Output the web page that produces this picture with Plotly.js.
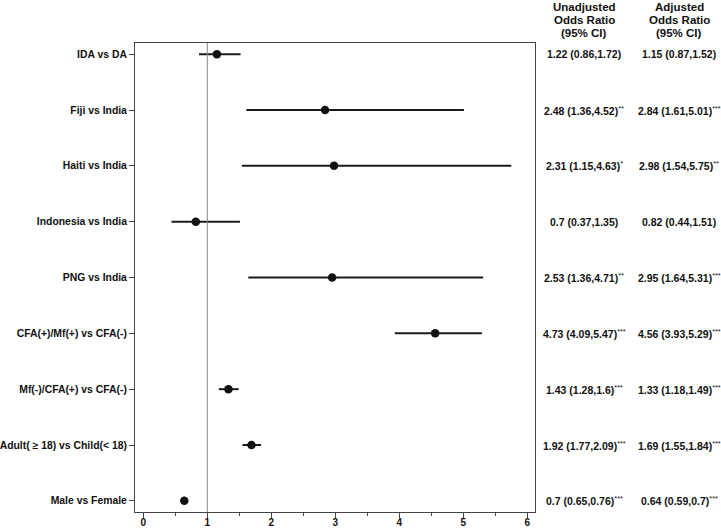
<!DOCTYPE html>
<html>
<head>
<meta charset="utf-8">
<script src="https://cdn.plot.ly/plotly-3.0.1.min.js"></script>
<style>html,body{margin:0;padding:0;background:#fff;}</style>
</head>
<body>
<div id="chart" style="width:721px;height:530px;"></div>
<script>
const categories = ["IDA vs DA","Fiji vs India","Haiti vs India","Indonesia vs India","PNG vs India","CFA(+)/Mf(+) vs CFA(-)","Mf(-)/CFA(+) vs CFA(-)","Adult( ≥ 18) vs Child(&lt; 18)","Male vs Female"];
const adjOR  = [1.15, 2.84, 2.98, 0.82, 2.95, 4.56, 1.33, 1.69, 0.64];
const adjLo  = [0.87, 1.61, 1.54, 0.44, 1.64, 3.93, 1.18, 1.55, 0.59];
const adjHi  = [1.52, 5.01, 5.75, 1.51, 5.31, 5.29, 1.49, 1.84, 0.70];
const unadjText = ["1.22 (0.86,1.72)","2.48 (1.36,4.52)<sup>**</sup>","2.31 (1.15,4.63)<sup>*</sup>","0.7 (0.37,1.35)","2.53 (1.36,4.71)<sup>**</sup>","4.73 (4.09,5.47)<sup>***</sup>","1.43 (1.28,1.6)<sup>***</sup>","1.92 (1.77,2.09)<sup>***</sup>","0.7 (0.65,0.76)<sup>***</sup>"];
const adjText = ["1.15 (0.87,1.52)","2.84 (1.61,5.01)<sup>***</sup>","2.98 (1.54,5.75)<sup>**</sup>","0.82 (0.44,1.51)","2.95 (1.64,5.31)<sup>***</sup>","4.56 (3.93,5.29)<sup>***</sup>","1.33 (1.18,1.49)<sup>***</sup>","1.69 (1.55,1.84)<sup>***</sup>","0.64 (0.59,0.7)<sup>***</sup>"];
const colHeaders = [["Unadjusted","Odds Ratio","(95% CI)"],["Adjusted","Odds Ratio","(95% CI)"]];
const xTicks = [0,1,2,3,4,5,6];

const idx = categories.map((c,i)=>i);
const font = "Liberation Sans, Arial, sans-serif";
const boldify = s => "<b>"+s.replace(/<sup>/,"</b><sup>").replace(/<\/sup>/,"</sup><b>")+"</b>";

const trace = {
  type: "scatter", mode: "markers",
  x: adjOR, y: idx,
  marker: {color: "#111", size: 8.5},
  error_x: {type: "data", symmetric: false,
    array: adjHi.map((h,i)=>h-adjOR[i]),
    arrayminus: adjLo.map((l,i)=>adjOR[i]-l),
    color: "#1a1a1a", thickness: 2, width: 0},
  hoverinfo: "skip", showlegend: false
};

const colX = [1.1225, 1.36];
const headerShift = [36, 23, 10];
const annotations = [];
idx.forEach(i=>{
  annotations.push({xref:"paper", yref:"y", x:colX[0], y:i, text:boldify(unadjText[i]), showarrow:false, xanchor:"center", yanchor:"middle", font:{family:font,size:10.5,color:"#111"}});
  annotations.push({xref:"paper", yref:"y", x:colX[1], y:i, text:boldify(adjText[i]), showarrow:false, xanchor:"center", yanchor:"middle", font:{family:font,size:10.5,color:"#111"}});
});
colHeaders.forEach((lines,j)=>{
  lines.forEach((ln,k)=>{
    annotations.push({xref:"paper", yref:"paper", x:colX[j], y:1, yanchor:"middle", xanchor:"center", yshift:headerShift[k], text:"<b>"+ln+"</b>", showarrow:false, font:{family:font,size:11.5,color:"#111"}});
  });
});

const layout = {
  width: 721, height: 530,
  margin: {l:135, r:186, t:43, b:18},
  paper_bgcolor: "#fff", plot_bgcolor: "#fff",
  font: {family: font, color: "#111"},
  xaxis: {range: [-0.13, 6.12], tickvals: xTicks, ticktext: xTicks.map(String),
    ticks: "outside", ticklen: 5, tickcolor: "#444", showgrid: false, zeroline: false,
    showline: true, linecolor: "#444", linewidth: 1, mirror: true,
    ticklabelstandoff: -4,
    tickfont: {family: font, size: 10, color: "#111", weight: "bold"},
    minor: {dtick: 0.5, tick0: 0, ticks: "outside", ticklen: 3, tickcolor: "#444", showgrid: false}},
  yaxis: {range: [8.2, -0.2], tickvals: idx, ticktext: categories,
    ticks: "outside", ticklen: 5, tickcolor: "#444", showgrid: false, zeroline: false,
    showline: true, linecolor: "#444", linewidth: 1, mirror: true,
    tickfont: {family: font, size: 10.4, color: "#111", weight: "bold"}},
  shapes: [{type:"line", xref:"x", yref:"paper", x0:1, x1:1, y0:0, y1:1, line:{color:"#888", width:1}}],
  annotations: annotations
};

Plotly.newPlot("chart", [trace], layout, {displayModeBar: false, staticPlot: true});
</script>
</body>
</html>
